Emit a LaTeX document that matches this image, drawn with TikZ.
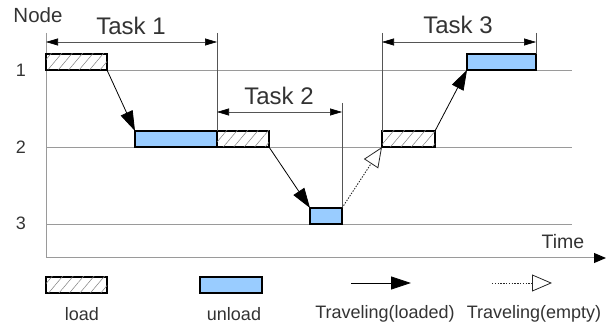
\documentclass[tikz,border=0pt]{standalone}
\usepackage{fontspec}
\setmainfont{Liberation Sans}
\usetikzlibrary{arrows.meta,patterns.meta}
\definecolor{txt}{HTML}{333333}
\definecolor{gridc}{HTML}{9A9A9A}
\definecolor{dimc}{HTML}{555555}
\definecolor{unl}{HTML}{99CCFF}
\tikzset{
  bar/.style={draw=black,line width=1.6pt,inner sep=0pt,outer sep=0pt,
    anchor=north west,minimum height=16pt},
  loadbar/.style={bar,fill=white,postaction={pattern={Lines[angle=50,distance=8pt,line width=0.5pt]},pattern color=gray}},
  unloadbar/.style={bar,fill=unl},
  gridline/.style={draw=gridc,line width=0.8pt},
  axisline/.style={draw=gridc,line width=1pt},
  extline/.style={draw=dimc,line width=0.5pt},
  dimline/.style={draw=dimc,line width=0.6pt,
    {Triangle[length=12pt,width=7pt,color=black]}-{Triangle[length=12pt,width=7pt,color=black]}},
  loaded/.style={draw=black,line width=0.8pt,-{Triangle[length=20pt,width=13pt]}},
  emptyrun/.style={draw=black!85,line width=0.9pt,dash pattern=on 1.4pt off 1.4pt,
    -{Triangle[open,length=20pt,width=17pt,line width=0.8pt]}},
  tasklbl/.style={text=txt,font=\fontsize{24}{26}\selectfont,inner sep=0pt},
  lbl/.style={text=txt,font=\fontsize{18}{20}\selectfont,inner sep=0pt},
  leglbl/.style={text=txt,font=\fontsize{18}{20}\selectfont,inner sep=0pt},
}
\begin{document}
\begin{tikzpicture}[x=1pt,y=-1pt]
\useasboundingbox (0,0) rectangle (606,326);

% axes
\coordinate (ytop) at (46,33);
\coordinate (orig) at (46,258);
\coordinate (xend) at (606,258);
\draw[axisline,-{Triangle[length=12pt,width=10pt,color=black]}] (ytop) -- (orig) -- (xend);

% node rows
\coordinate (r1a) at (46,70);  \coordinate (r1b) at (572,70);
\coordinate (r2a) at (46,147); \coordinate (r2b) at (572,147);
\coordinate (r3a) at (46,224); \coordinate (r3b) at (572,224);
\draw[gridline] (r1a) -- (r1b);
\draw[gridline] (r2a) -- (r2b);
\draw[gridline] (r3a) -- (r3b);

% axis labels
\node[lbl,font=\fontsize{20.5}{22}\selectfont] (nodelbl) at (38,15) {Node};
\node[lbl] (n1) at (21,70) {1};
\node[lbl] (n2) at (21,147) {2};
\node[lbl] (n3) at (21,223) {3};
\node[lbl,font=\fontsize{19.5}{21}\selectfont] (timelbl) at (563,242) {Time};

% task bars
\node[loadbar,minimum width=61pt] (l1) at (46,54) {};
\node[unloadbar,minimum width=82pt] (u1) at (135,131) {};
\node[loadbar,minimum width=52pt] (l2) at (217,131) {};
\node[unloadbar,minimum width=32pt] (u2) at (310,208) {};
\node[loadbar,minimum width=53pt] (l3) at (382,131) {};
\node[unloadbar,minimum width=69pt] (u3) at (467,54) {};

% extension lines for the task spans
\coordinate (e1) at (217,33);
\coordinate (e2) at (342,103);
\coordinate (e3) at (382,33);
\coordinate (e4) at (536,33);
\draw[extline] (e1) -- (u1.north east);
\draw[extline] (e2) -- (u2.north east);
\draw[extline] (e3) -- (l3.north west);
\draw[extline] (e4) -- (u3.north east);

% task spans
\coordinate (s1a) at (46,42);  \coordinate (s1b) at (217,42);
\coordinate (s2a) at (217,112); \coordinate (s2b) at (342,112);
\coordinate (s3a) at (382,42); \coordinate (s3b) at (536,42);
\draw[dimline] (s1a) -- (s1b);
\draw[dimline] (s2a) -- (s2b);
\draw[dimline] (s3a) -- (s3b);
\node[tasklbl] (task1) at (131,26) {Task 1};
\node[tasklbl] (task2) at (279,96) {Task 2};
\node[tasklbl] (task3) at (458,25) {Task 3};

% travel
\draw[loaded] (l1.south east) -- (u1.north west);
\draw[loaded] (l2.south east) -- (u2.north west);
\draw[emptyrun] (u2.north east) -- (l3.south west);
\draw[loaded] (l3.north east) -- (u3.south west);

% legend
\node[loadbar,minimum width=61pt] (legl) at (46,277) {};
\node[unloadbar,minimum width=62pt] (legu) at (200,277) {};
\coordinate (la) at (351,283); \coordinate (lb) at (411,283);
\coordinate (ea) at (492,283); \coordinate (eb) at (552,283);
\draw[loaded] (la) -- (lb);
\draw[emptyrun] (ea) -- (eb);
\node[leglbl] (leg1) at (82,314) {load};
\node[leglbl] (leg2) at (234,314) {unload};
\node[leglbl] (leg3) at (385,314) {Traveling(loaded)};
\node[leglbl] (leg4) at (534,314) {Traveling(empty)};
\end{tikzpicture}
\end{document}
